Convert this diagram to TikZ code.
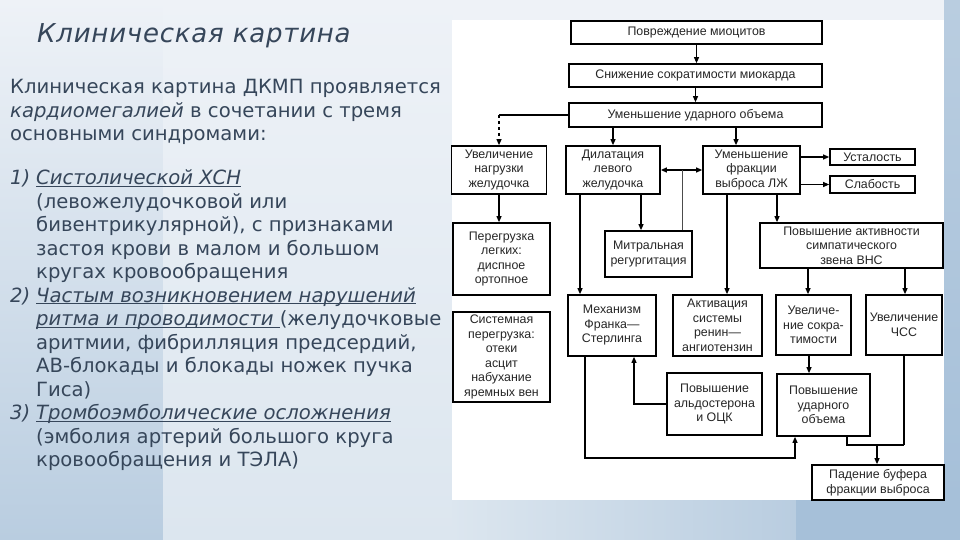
\documentclass[tikz,border=0pt]{standalone}
\usepackage{fontspec}
\setmainfont{DejaVu Sans}
\newfontfamily\chartfont{Liberation Sans}
\newfontfamily\titlefont[LetterSpace=3]{DejaVu Sans}
\usetikzlibrary{arrows.meta}
\definecolor{txt}{HTML}{36465A}
\definecolor{bgA}{HTML}{EEF2F7}
\definecolor{bgB}{HTML}{DCE6EF}
\definecolor{bgC}{HTML}{B9CDE0}
\definecolor{bgD}{HTML}{A6C0D9}
\newcommand{\ul}[1]{\underline{\smash{#1}}}
\begin{document}
\begin{tikzpicture}[x=1pt,y=-1pt,
 box/.style={draw=black, line width=1.7pt, fill=white, align=center, inner sep=1pt,
   font=\chartfont\fontsize{12.4}{14.5}\selectfont, text=black!85},
 arr/.style={line width=1.1pt, -{Triangle[length=6pt,width=5pt]}},
 darr/.style={line width=1.1pt, {Triangle[length=6pt,width=5pt]}-{Triangle[length=6pt,width=5pt]}},
 ln/.style={line width=1.1pt},
 thinln/.style={line width=0.6pt, black!70},
 lt/.style={anchor=base west, inner sep=0pt, text=txt, font=\fontsize{19.6}{24}\selectfont},
 ttl/.style={anchor=base west, inner sep=0pt, text=txt, font=\titlefont\itshape\fontsize{26}{30}\selectfont}]
% background
\useasboundingbox (0,0) rectangle (960,540);
\fill[bgA] (0,0) rectangle (960,540);
\shade[top color=bgA, bottom color=bgC] (0,0) rectangle (163,540);
\shade[top color=bgA, bottom color=bgB] (163,0) rectangle (452,540);
\shade[left color=bgB, right color=bgC] (452,500) rectangle (796,540);
\fill[bgD] (796,500) rectangle (960,540);
\shade[top color=bgC, bottom color=bgD] (944,0) rectangle (960,500);
\fill[white] (452,20) rectangle (944,500);

% left text
\node[ttl] (title) at (37,42.7) {Клиническая картина};
\node[lt] (l1) at (10,94) {Клиническая картина ДКМП проявляется};
\node[lt] (l2) at (10,117.5) {\textit{кардиомегалией} в сочетании с тремя};
\node[lt] (l3) at (10,141) {основными синдромами:};
\node[lt] (n1) at (10,184.5) {\textit{1)}};
\node[lt] (l5) at (36,184.5) {\ul{\textit{Систолической ХСН}}};
\node[lt] (l6) at (36,208) {(левожелудочковой или};
\node[lt] (l7) at (36,231.5) {бивентрикулярной), с признаками};
\node[lt] (l8) at (36,255) {застоя крови в малом и большом};
\node[lt] (l9) at (36,278.5) {кругах кровообращения};
\node[lt] (n2) at (10,302) {\textit{2)}};
\node[lt] (l10) at (36,302) {\ul{\textit{Частым возникновением нарушений}}};
\node[lt] (l11) at (36,325.5) {\ul{\textit{ритма и проводимости }}(желудочковые};
\node[lt] (l12) at (36,349) {аритмии, фибрилляция предсердий,};
\node[lt] (l13) at (36,372.5) {АВ-блокады и блокады ножек пучка};
\node[lt] (l14) at (36,396) {Гиса)};
\node[lt] (n3) at (10,419.5) {\textit{3)}};
\node[lt] (l15) at (36,419.5) {\ul{\textit{Тромбоэмболические осложнения}}};
\node[lt] (l16) at (36,443) {(эмболия артерий большого круга};
\node[lt] (l17) at (36,466.5) {кровообращения и ТЭЛА)};

% flowchart boxes
\node[box, minimum width=251pt, minimum height=23pt] (b1) at (696.5,32.5) {Повреждение миоцитов};
\node[box, minimum width=253pt, minimum height=23pt] (b2) at (695.5,75.5) {Снижение сократимости миокарда};
\node[box, minimum width=253pt, minimum height=24pt] (b3) at (695.5,115) {Уменьшение ударного объема};
\node[box, minimum width=95pt, minimum height=48pt] (b4) at (499,170) {Увеличение\\нагрузки\\желудочка};
\node[box, minimum width=94pt, minimum height=48pt] (b5) at (613,170) {Дилатация\\левого\\желудочка};
\node[box, minimum width=97pt, minimum height=48pt] (b6) at (751.5,170) {Уменьшение\\фракции\\выброса ЛЖ};
\node[box, minimum width=85pt, minimum height=16pt] (b7) at (872.5,157) {Усталость};
\node[box, minimum width=85pt, minimum height=17pt] (b8) at (872.5,184.5) {Слабость};
\node[box, minimum width=97pt, minimum height=72pt] (b9) at (501.5,259) {Перегрузка\\легких:\\диспное\\ортопное};
\node[box, minimum width=87pt, minimum height=46pt] (b10) at (648.5,254) {Митральная\\регургитация};
\node[box, minimum width=183pt, minimum height=45pt] (b11) at (851.5,245.5) {Повышение активности\\симпатического\\звена ВНС};
\node[box, minimum width=97pt, minimum height=90pt] (b12) at (501.5,357) {Системная\\перегрузка:\\отеки\\асцит\\набухание\\яремных вен};
\node[box, minimum width=88pt, minimum height=61pt] (b13) at (612,325.5) {Механизм\\Франка—\\Стерлинга};
\node[box, minimum width=89pt, minimum height=61pt] (b14) at (717.5,325.5) {Активация\\системы\\ренин—\\ангиотензин};
\node[box, minimum width=75pt, minimum height=60pt] (b15) at (813.5,325) {Увеличе-\\ние сокра-\\тимости};
\node[box, minimum width=76pt, minimum height=60pt] (b16) at (904,325) {Увеличение\\ЧСС};
\node[box, minimum width=95pt, minimum height=62pt] (b17) at (714.5,404) {Повышение\\альдостерона\\и ОЦК};
\node[box, minimum width=93pt, minimum height=62pt] (b18) at (823.5,405) {Повышение\\ударного\\объема};
\node[box, minimum width=132pt, minimum height=35pt] (b19) at (878,482.5) {Падение буфера\\фракции выброса};

% helper coordinates
\coordinate (c580) at (580,0);
\coordinate (c585) at (585,0);
\coordinate (c634) at (634,0);
\coordinate (c641) at (641,0);
\coordinate (c682) at (682,0);
\coordinate (c727) at (727,0);
\coordinate (c736) at (736,0);
\coordinate (c777) at (777,0);
\coordinate (c808) at (808,0);
\coordinate (c809) at (809,0);
\coordinate (c847) at (847,0);
\coordinate (c905) at (905,0);
\coordinate (loop) at (795,458);
\coordinate (j) at (877,445);

% connectors
\draw[arr] (b1.south) -- (b1.south |- b2.north);
\draw[arr] (b2.south) -- (b2.south |- b3.north);
\draw[ln] (b3.west) -- (b3.west -| b4.north);
\draw[arr, dashed] (b3.west -| b4.north) -- (b4.north);
\draw[arr] (b3.south -| b5.north) -- (b5.north);
\draw[arr] (b3.south -| c736) -- (b6.north -| c736);
\draw[darr] (b5.east) -- (b6.west);
\draw[arr] (b6.east |- b7.west) -- (b7.west);
\draw[arr] (b6.east |- b8.west) -- (b8.west);
\draw[arr] (b4.south) -- (b4.south |- b9.north);
\draw[arr] (b5.south -| c641) -- (b10.north -| c641);
\draw[thinln] (b10.north -| c682) -- (b5.east -| c682);
\draw[arr] (b5.south -| c580) -- (b13.north -| c580);
\draw[arr] (b6.south -| c727) -- (b14.north -| c727);
\draw[arr] (b6.south -| c777) -- (b11.north -| c777);
\draw[arr] (b11.south -| c808) -- (b15.north -| c808);
\draw[arr] (b11.south -| c905) -- (b16.north -| c905);
\draw[arr] (b13.south -| c585) |- (loop) -- (b18.south -| loop);
\draw[arr] (b17.west) -| (b13.south -| c634);
\draw[arr] (b15.south -| c809) -- (b18.north -| c809);
\draw[ln] (b16.south) -- (b16.south |- j);
\draw[ln] (b18.south -| c847) |- (b16.south |- j);
\draw[arr] (j) -- (j |- b19.north);
\end{tikzpicture}
\end{document}
